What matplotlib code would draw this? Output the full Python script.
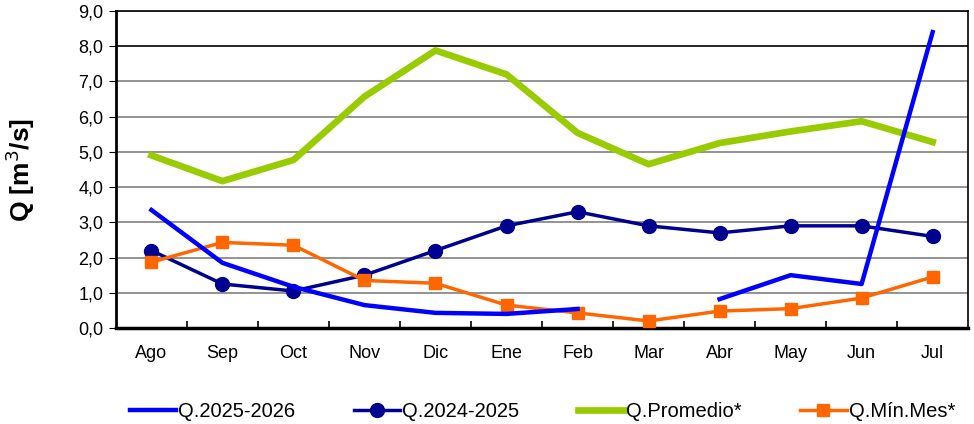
import numpy as np
import matplotlib
matplotlib.use('Agg')
from matplotlib import pyplot as plt

meses = ['Ago', 'Sep', 'Oct', 'Nov', 'Dic', 'Ene', 'Feb', 'Mar', 'Abr', 'May', 'Jun', 'Jul']
q_2025_2026 = [3.35, 1.85, 1.17, 0.65, 0.43, 0.40, 0.54, np.nan, 0.82, 1.50, 1.25, 8.40]
q_2024_2025 = [2.20, 1.25, 1.05, 1.50, 2.20, 2.90, 3.30, 2.90, 2.70, 2.90, 2.90, 2.60]
q_promedio = [4.90, 4.17, 4.77, 6.57, 7.88, 7.20, 5.54, 4.65, 5.25, 5.58, 5.87, 5.28]
q_min_mes = [1.87, 2.43, 2.35, 1.35, 1.27, 0.65, 0.43, 0.20, 0.48, 0.55, 0.85, 1.45]

plt.rcParams['font.family'] = ['Liberation Sans', 'DejaVu Sans']

fig = plt.figure(figsize=(9.74, 4.24), dpi=100)
ax = fig.add_axes([0.119, 0.2264, 0.875, 0.7477])

x = np.arange(len(meses))
ax.plot(x, q_2025_2026, color='#0000ff', lw=3.2, label='Q.2025-2026', zorder=4)
ax.plot(x, q_2024_2025, color='#000090', lw=2.5, marker='o', ms=10, label='Q.2024-2025', zorder=3)
ax.plot(x, q_promedio, color='#99cc00', lw=4.8, label='Q.Promedio*', zorder=2)
ax.plot(x, q_min_mes, color='#ff6600', lw=2.5, marker='s', ms=8, label='Q.Mín.Mes*', zorder=3)

ticks_y = np.arange(0, 9.1, 1.0)
ax.set_xlim(-0.5, len(meses) - 0.5)
ax.set_ylim(0, 9)
ax.set_yticks(ticks_y)
ax.set_yticklabels([('%.1f' % v).replace('.', ',') for v in ticks_y])
ax.set_xticks(x)
ax.set_xticklabels(meses)
ax.set_xticks(np.arange(0.5, len(meses) - 0.5, 1.0), minor=True)

ax.grid(axis='y', color='#808080', lw=1.2)
ax.set_axisbelow(True)
for g, v in zip(ax.get_ygridlines(), ticks_y):
    if v == 8.0:
        g.set_color('black')
for s in ax.spines.values():
    s.set_color('black')
    s.set_linewidth(1.2)
ax.spines['left'].set_linewidth(2)
ax.spines['bottom'].set_linewidth(2.5)

ax.tick_params(axis='y', direction='out', length=5, labelsize=13, pad=4)
ax.tick_params(axis='x', which='major', length=0, labelsize=13, pad=12)
ax.tick_params(axis='x', which='minor', direction='in', length=5, width=1.2)

ax.set_ylabel('Q [m$^3$/s]', fontsize=19, fontweight='bold', labelpad=30)

fig.legend(loc='lower center', bbox_to_anchor=(0.557, -0.035), ncol=4, frameon=False,
           fontsize=14.5, handlelength=2.3, handletextpad=0.1, columnspacing=2.9)

plt.savefig('out.png', dpi=100)
plt.close()
